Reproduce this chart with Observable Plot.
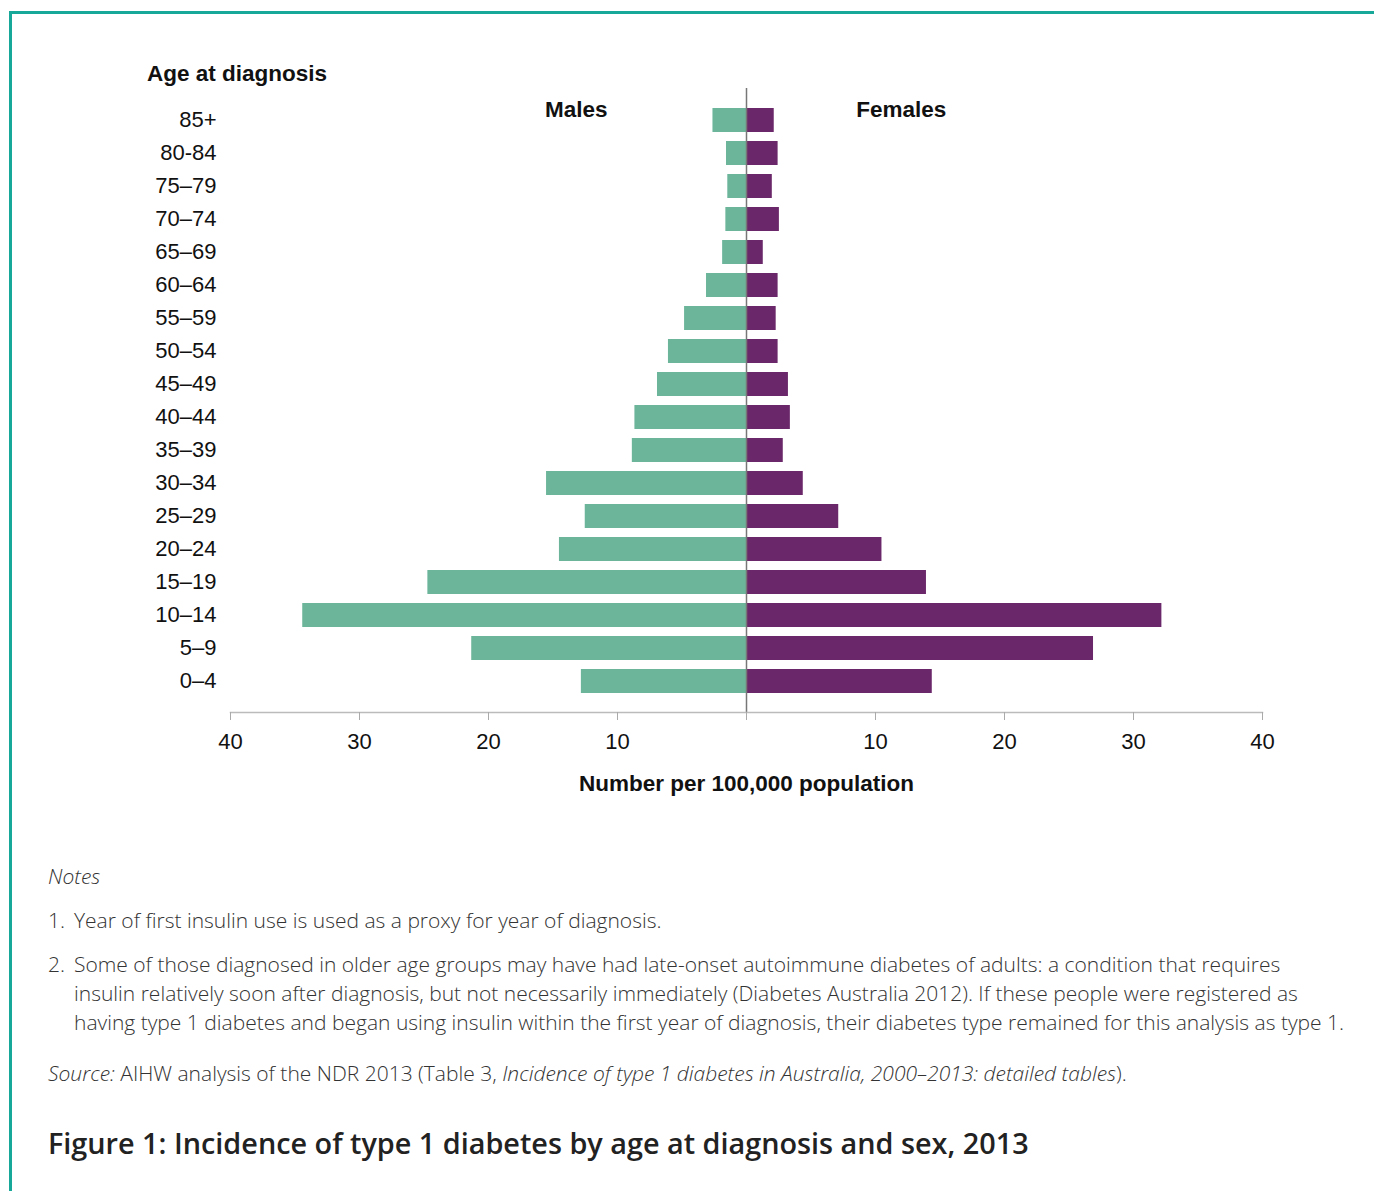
<!DOCTYPE html>
<html>
<head>
<meta charset="utf-8">
<script src="https://cdn.jsdelivr.net/npm/d3@7"></script>
<script src="https://cdn.jsdelivr.net/npm/@observablehq/plot@0.6"></script>
<style>
  html, body { margin: 0; padding: 0; background: #fff; }
  body { width: 1374px; height: 1191px; position: relative; overflow: hidden; }
  #frame { position: absolute; left: 9px; top: 11px; right: -10px; bottom: -10px;
           border-top: 3px solid #17a89a; border-left: 3px solid #17a89a; }
  #chart { position: absolute; left: 0; top: 0; }
  .ttl { position: absolute; font-family: "Liberation Sans", Arial, sans-serif; font-weight: bold;
         font-size: 22.5px; color: #111; white-space: nowrap; }
  .notes { position: absolute; left: 48px; font-family: "Open Sans", sans-serif; font-weight: 300;
           font-size: 21px; color: #333; white-space: nowrap; line-height: 29px; }
  .num { display: inline-block; width: 26px; }
  .ind { padding-left: 26px; }
  .fig { position: absolute; left: 48px; top: 1123px; font-family: "Open Sans", sans-serif;
         font-weight: 600; font-size: 28.8px; color: #222; white-space: nowrap; }
</style>
</head>
<body>
<div id="frame"></div>
<div id="chart"></div>
<div class="ttl" style="left:147px; top:61px;">Age at diagnosis</div>
<div class="notes" style="top:862px;"><i>Notes</i></div>
<div class="notes" style="top:906px;"><span class="num">1.</span>Year of first insulin use is used as a proxy for year of diagnosis.</div>
<div class="notes" style="top:950px;"><span class="num">2.</span>Some of those diagnosed in older age groups may have had late-onset autoimmune diabetes of adults: a condition that requires<br>
<span class="ind">insulin relatively soon after diagnosis, but not necessarily immediately (Diabetes Australia 2012). If these people were registered as</span><br>
<span class="ind">having type 1 diabetes and began using insulin within the first year of diagnosis, their diabetes type remained for this analysis as type 1.</span></div>
<div class="notes" style="top:1059px;"><i>Source:</i> AIHW analysis of the NDR 2013 (Table 3, <i>Incidence of type 1 diabetes in Australia, 2000–2013: detailed tables</i>).</div>
<div class="fig">Figure 1: Incidence of type 1 diabetes by age at diagnosis and sex, 2013</div>
<script>
const ages = ["85+", "80-84", "75–79", "70–74", "65–69", "60–64", "55–59", "50–54", "45–49",
              "40–44", "35–39", "30–34", "25–29", "20–24", "15–19", "10–14", "5–9", "0–4"];
const males = [2.6, 1.55, 1.45, 1.6, 1.85, 3.1, 4.8, 6.05, 6.9, 8.65, 8.85, 15.5, 12.5, 14.5, 24.7, 34.4, 21.3, 12.8];
const females = [2.15, 2.45, 2.0, 2.55, 1.3, 2.45, 2.3, 2.45, 3.25, 3.4, 2.85, 4.4, 7.15, 10.5, 13.95, 32.2, 26.9, 14.4];
const xTicks = [-40, -30, -20, -10, 0, 10, 20, 30, 40];
const sexes = ["Males", "Females"];
const colors = ["#6cb59b", "#6a2769"];

const data = ages.flatMap((a, i) => [
  {age: a, sex: "Males", v: -males[i]},
  {age: a, sex: "Females", v: females[i]}
]);

const chart = Plot.plot({
  width: 1374,
  height: 810,
  marginLeft: 230,
  marginRight: 112,
  marginTop: 88,
  marginBottom: 98,
  style: {fontFamily: "'Liberation Sans', Arial, sans-serif", color: "#111", background: "transparent"},
  x: {domain: [-40, 40], axis: null},
  y: {domain: ages, range: [98, 703], padding: 0.275, axis: null},
  color: {domain: sexes, range: colors},
  marks: [
    Plot.barX(data, {x: "v", y: "age", fill: "sex"}),
    Plot.ruleX([0], {stroke: "#777", strokeWidth: 1.5}),
    Plot.frame({anchor: "bottom", stroke: "#bbb", strokeWidth: 1.5}),
    Plot.axisX({ticks: xTicks, tickSize: 8, tickPadding: 13, fontSize: 22, stroke: "#aaa",
                tickFormat: d => d === 0 ? "" : String(Math.abs(d)), label: null}),
    Plot.axisY({tickSize: 0, tickPadding: 14, fontSize: 22, dy: -1, label: null}),
    Plot.text(["Number per 100,000 population"], {frameAnchor: "bottom", lineAnchor: "middle", dy: 71, fontSize: 22.5, fontWeight: "bold"}),
    Plot.text([{x: -13.2, t: sexes[0]}, {x: 12.0, t: sexes[1]}], {x: "x", text: "t", frameAnchor: "top", lineAnchor: "middle", dy: 21, fontSize: 22.5, fontWeight: "bold"})
  ]
});
document.getElementById("chart").append(chart);
</script>
</body>
</html>
